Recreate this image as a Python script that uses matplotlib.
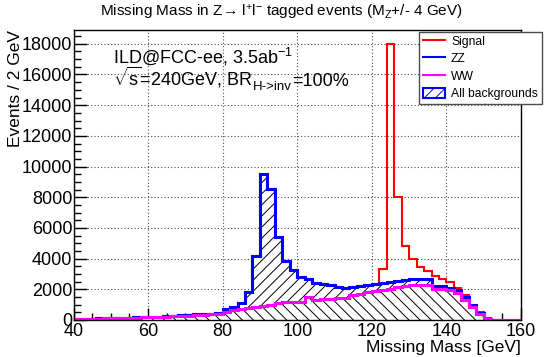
import numpy as np
import matplotlib
matplotlib.use("Agg")
import matplotlib.pyplot as plt
from matplotlib.ticker import MultipleLocator
from matplotlib.lines import Line2D
from matplotlib.patches import Patch

plt.rcParams['font.family'] = ['Liberation Sans', 'DejaVu Sans']
plt.rcParams['mathtext.fontset'] = 'custom'
plt.rcParams['mathtext.rm'] = 'Liberation Sans'
plt.rcParams['mathtext.it'] = 'Liberation Sans:italic'
plt.rcParams['mathtext.bf'] = 'Liberation Sans:bold'
plt.rcParams['hatch.linewidth'] = 0.7

# ---- data (2 GeV bins from 40 to 160 GeV) ----
bin_edges = np.arange(40, 162, 2)

# WW contribution (bottom of the stack)
ww_level = [60, 70, 80, 90, 100, 110, 120, 130, 150, 170,
            190, 200, 220, 240, 270, 290, 320, 350, 370, 400,
            550, 630, 720, 800, 870, 930, 1000, 1100, 1150, 1150,
            1200, 1480, 1300, 1350, 1400, 1450, 1450, 1620, 1670, 1820,
            1870, 1930, 2000, 2130, 2200, 2300, 2300, 2300, 2050, 2000,
            1950, 1750, 1280, 850, 390, 40, 10, 5, 5, 5]

# WW + ZZ (all backgrounds)
bkg_level = [70, 80, 90, 100, 115, 125, 135, 150, 170, 190,
             210, 225, 245, 270, 300, 330, 360, 390, 420, 450,
             717, 870, 1130, 1804, 4196, 9522, 8522, 5391, 3870, 3261,
             2800, 2700, 2400, 2350, 2300, 2150, 2100, 2150, 2200, 2300,
             2350, 2400, 2450, 2550, 2600, 2650, 2650, 2650, 2200, 2200,
             2100, 1950, 1500, 950, 450, 80, 10, 5, 5, 5]

# Signal + all backgrounds
sig_level = [70, 80, 90, 100, 115, 125, 135, 150, 170, 190,
             210, 225, 245, 270, 300, 330, 360, 390, 420, 450,
             717, 870, 1130, 1804, 4196, 9522, 8522, 5391, 3870, 3261,
             2800, 2700, 2400, 2350, 2300, 2150, 2100, 2150, 2200, 2300,
             2350, 3300, 18000, 8000, 4800, 4000, 3450, 3200, 2900, 2650,
             2450, 2100, 1600, 1000, 500, 100, 10, 5, 5, 5]

x_ticks = [40, 60, 80, 100, 120, 140, 160]
y_ticks = [0, 2000, 4000, 6000, 8000, 10000, 12000, 14000, 16000, 18000]

legend_labels = ["Signal", "ZZ", "WW", "All backgrounds"]

W, H = 546, 357
fig = plt.figure(figsize=(W / 100, H / 100), dpi=100)
L, R, T, B = 73.5, 521, 30, 320
ax = fig.add_axes([L / W, 1 - B / H, (R - L) / W, (B - T) / H])

ww = np.array(ww_level, float)
bkg = np.array(bkg_level, float)
sig = np.array(sig_level, float)

# hatched stacked backgrounds
ax.stairs(ww, bin_edges, baseline=0, fill=True, facecolor='white',
          edgecolor='black', hatch='\\\\\\', linewidth=0, zorder=2)
ax.stairs(bkg, bin_edges, baseline=ww, fill=True, facecolor='white',
          edgecolor='black', hatch='///', linewidth=0, zorder=2)

# outlines
ax.stairs(sig, bin_edges, baseline=None, color='red', linewidth=1.5, zorder=3)
ax.stairs(bkg, bin_edges, baseline=None, color='blue', linewidth=2.2, zorder=4)
ax.stairs(ww, bin_edges, baseline=None, color='magenta', linewidth=2.2, zorder=5)

ax.set_xlim(40, 160)
ax.set_ylim(0, 18900)
ax.set_xticks(x_ticks)
ax.set_yticks(y_ticks)
ax.xaxis.set_minor_locator(MultipleLocator(5))
ax.yaxis.set_minor_locator(MultipleLocator(500))
ax.tick_params(which='both', direction='in', top=False, right=False,
               labelsize=13, width=1)
ax.tick_params(which='major', length=9)
ax.tick_params(which='minor', length=5)
ax.tick_params(axis='x', pad=2)
ax.tick_params(axis='y', pad=0.8)
ax.grid(True, which='major', linestyle=(0, (1, 2)), color='0.3', linewidth=0.8)
ax.set_axisbelow(True)
for s in ax.spines.values():
    s.set_linewidth(1.0)
    s.set_zorder(6)

ax.set_xlabel("Missing Mass [GeV]", fontsize=12.5, loc='right')
ax.set_ylabel("Events / 2 GeV", fontsize=12.5, loc='top')
ax.xaxis.set_label_coords(1.0, -(340 - B) / (B - T))
ax.yaxis.set_label_coords((23 - L) / (R - L), 1.0)

fig.text(281.7 / W, 1 - 12 / H,
         "Missing Mass in Z\u2192 l$^{+}$l$^{-}$ tagged events (M$_{\\mathrm{Z}}$+/- 4 GeV)",
         ha='center', va='center', fontsize=11)

fig.text(113 / W, 1 - 63 / H, r"ILD@FCC-ee, 3.5ab$^{-1}$",
         ha='left', va='baseline', fontsize=13)

# second line: sqrt(s) text with a manually composed subscript
base2 = 1 - 86 / H
t1 = fig.text(113 / W, base2, r"$\sqrt{\mathrm{s}}$=240GeV, BR",
              ha='left', va='baseline', fontsize=13)
fig.canvas.draw()
rend = fig.canvas.get_renderer()
x1 = t1.get_window_extent(rend).x1
t2 = fig.text((x1 + 0.5) / W, base2 - 4.5 / H, "H->inv",
              ha='left', va='baseline', fontsize=9.5)
x2 = t2.get_window_extent(rend).x1
fig.text((x2 + 0.5) / W, base2, "=100%", ha='left', va='baseline', fontsize=13)

handles = [Line2D([], [], color='red', lw=1.5),
           Line2D([], [], color='blue', lw=1.5),
           Line2D([], [], color='magenta', lw=1.5),
           Patch(facecolor='white', edgecolor='blue', hatch='///', linewidth=1.5)]
leg = fig.legend(handles, legend_labels, loc='upper left',
                 bbox_to_anchor=(419 / W, 1 - 31.7 / H), fontsize=8.7,
                 frameon=True, fancybox=False, framealpha=1, edgecolor='0.3',
                 borderpad=0.3, labelspacing=0.42, handlelength=1.85,
                 handleheight=0.95, handletextpad=0.5, borderaxespad=0)
leg.get_frame().set_linewidth(1.0)
leg.set_zorder(10)

fig.savefig("out.png", dpi=100)
